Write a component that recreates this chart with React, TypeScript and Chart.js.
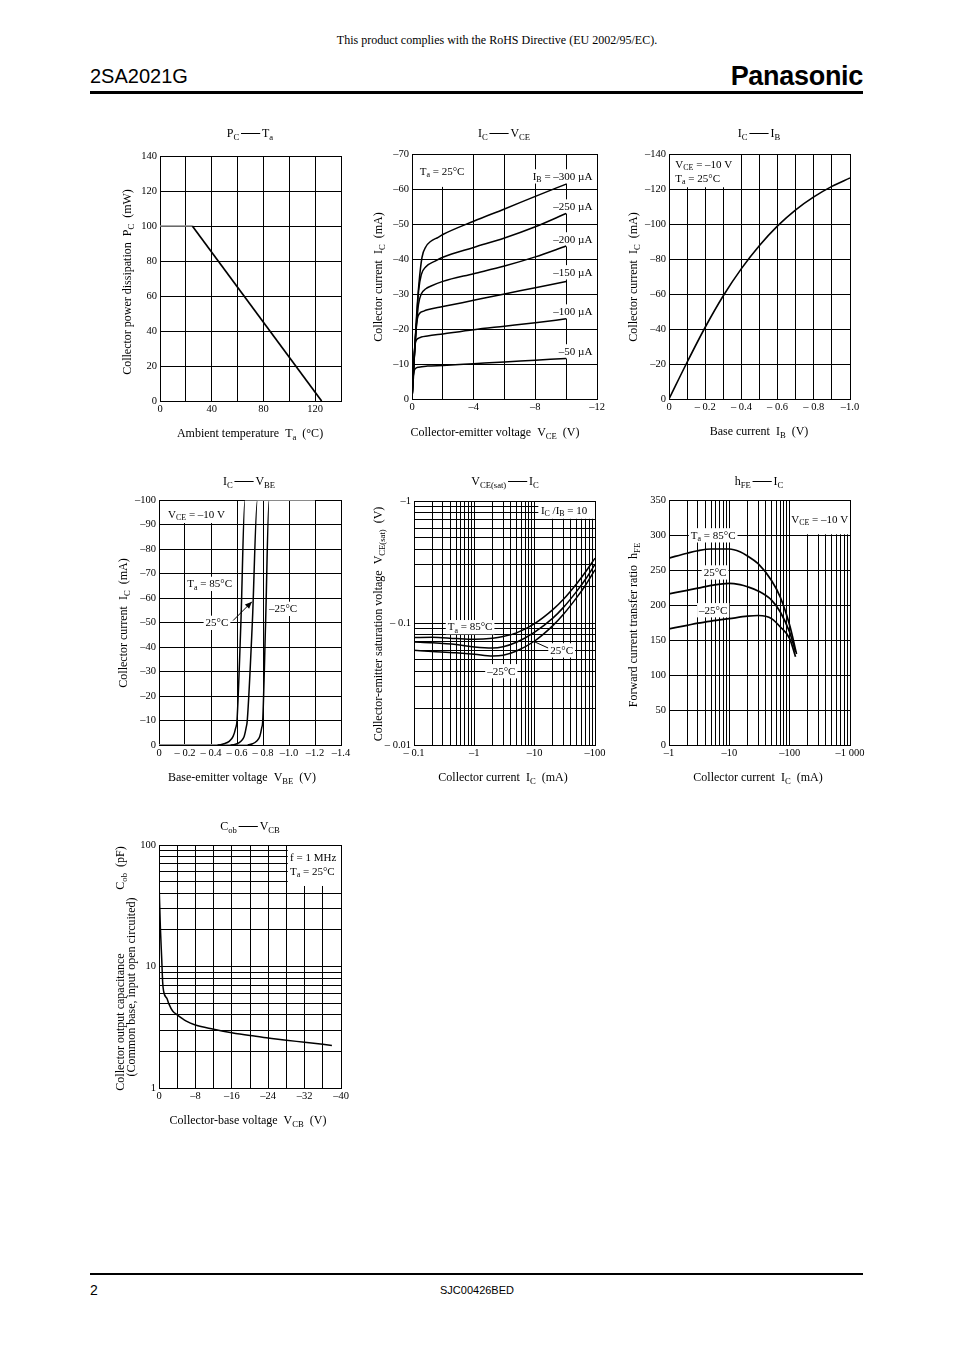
import React, { useEffect, useRef } from 'react';
import { Chart, registerables } from 'chart.js';

Chart.register(...registerables);

const SERIF = '"Liberation Serif", "Times New Roman", Times, serif';
const SANS = '"Liberation Sans", Arial, Helvetica, sans-serif';

/* ===================== DATA ===================== */
// PC – Ta
const TA = [0, 25, 125];
const PC = [100, 100, 0];

// IC – VCE (Ta = 25°C), one curve per IB
const VCE_300 = [0, -0.15, -0.3, -0.45, -0.65, -0.9, -1.2, -1.7, -2, -4, -6, -8, -10];
const IC_300 = [0, -12, -24, -33, -40.5, -43.5, -45, -46.2, -47, -50.8, -54.3, -57.9, -61.4];
const VCE_250 = [0, -0.15, -0.3, -0.43, -0.6, -0.9, -1.5, -2, -4, -6, -8, -10];
const IC_250 = [0, -12, -23, -31, -35.5, -37.8, -39.4, -40.5, -43.3, -46, -49.2, -53];
const VCE_200 = [0, -0.15, -0.3, -0.42, -0.6, -0.9, -1.2, -2, -4, -6, -8, -10];
const IC_200 = [0, -12, -21.5, -27, -30, -31.5, -32.2, -33.6, -35.8, -38, -40.6, -43.7];
const VCE_150 = [0, -0.12, -0.25, -0.35, -0.5, -0.76, -1, -2, -4, -6, -8, -10];
const IC_150 = [0, -10, -19.5, -23, -24.5, -25.1, -25.5, -26.4, -28.2, -30, -31.8, -33.6];
const VCE_100 = [0, -0.1, -0.17, -0.25, -0.4, -0.6, -1, -2, -4, -6, -8, -10];
const IC_100 = [0, -9, -14.5, -16.5, -17.3, -17.7, -18, -18.6, -19.8, -20.8, -21.8, -22.9];
const VCE_50 = [0, -0.06, -0.11, -0.2, -0.43, -1, -2, -4, -6, -8, -10];
const IC_50 = [0, -4, -7.2, -8.6, -9.1, -9.4, -9.6, -10.1, -10.6, -11.1, -11.6];
const IB_LABELS = ['I_{B} = –300 µA', '–250 µA', '–200 µA', '–150 µA', '–100 µA', '–50 µA'];
const IB_LABEL_Y = [-63.7, -55.1, -45.7, -36.3, -25.1, -13.7];

// IC – IB (VCE = –10 V, Ta = 25°C)
const IB = [0, -0.1, -0.2, -0.3, -0.4, -0.5, -0.6, -0.7, -0.8, -0.9, -1.0];
const IC_IB = [0, -21, -41, -59, -74.5, -87.7, -98.9, -108.1, -115.5, -121.5, -126.3];

// IC – VBE (VCE = –10 V)
const VBE_85 = [0, -0.45, -0.5, -0.54, -0.57, -0.59, -0.6, -0.63, -0.661, -1.2];
const VBE_25 = [0, -0.55, -0.6, -0.63, -0.655, -0.67, -0.679, -0.718, -0.757, -1.2];
const VBE_M25 = [0, -0.68, -0.72, -0.75, -0.775, -0.79, -0.798, -0.82, -0.847, -1.2];
const IC_VBE = [0, 0, -0.5, -1.5, -3.5, -7, -10, -50, -100, -100];

// VCE(sat) – IC (IC/IB = 10); magnitudes (both axes negative, log scales)
const IC_SAT = [0.1, 0.2, 0.5, 1, 2, 3, 5, 10, 20, 30, 50, 70, 100];
const VSAT_85 = [0.076, 0.0765, 0.0745, 0.0735, 0.075, 0.0775, 0.083, 0.099, 0.1287, 0.1565, 0.2109, 0.2632, 0.34];
const VSAT_25 = [0.07, 0.0688, 0.0665, 0.0637, 0.0625, 0.064, 0.0695, 0.0843, 0.1096, 0.1343, 0.1826, 0.2293, 0.3029];
const VSAT_M25 = [0.0597, 0.0585, 0.057, 0.0555, 0.0537, 0.0545, 0.059, 0.0712, 0.0951, 0.1178, 0.1621, 0.2049, 0.2728];

// hFE – IC (VCE = –10 V); IC magnitudes in mA
const IC_H85 = [1, 2, 3, 5, 10, 15, 20, 30, 50, 70, 100, 130];
const HFE_85 = [267, 274, 277.5, 280, 280, 276, 270, 259, 235, 211, 171, 130];
const IC_H25 = [1, 2, 3, 5, 10, 15, 20, 30, 50, 70, 100, 125];
const HFE_25 = [216, 221, 224, 228, 231, 229, 226, 220, 207, 190, 161, 133];
const IC_HM25 = [1, 2, 3, 5, 10, 20, 30, 40, 50, 70, 100, 125];
const HFE_M25 = [166, 171, 174, 177, 180.5, 184, 185, 184, 180.5, 168.6, 152, 126];

// Cob – VCB (f = 1 MHz, Ta = 25°C)
const VCB = [0, -0.3, -0.6, -0.8, -1, -1.8, -2.2, -3, -4, -6, -8, -12, -16, -20, -24, -28, -32, -38];
const COB = [50, 21, 11.5, 7.5, 6.3, 5.4, 4.9, 4.3, 4.0, 3.55, 3.3, 3.05, 2.85, 2.7, 2.58, 2.47, 2.38, 2.24];

// log gridline ticks
const decade = (from: number, to: number) => {
  const out: number[] = [];
  for (let d = from; d < to * 0.99; d *= 10) for (let m = 1; m < 10; m++) out.push(+(d * m).toPrecision(3));
  out.push(to);
  return out;
};
const SAT_X_TICKS = decade(0.1, 100);
const SAT_Y_TICKS = decade(0.01, 1);
const HFE_X_TICKS = decade(1, 1000);
const COB_Y_TICKS = decade(1, 100);

/* ===================== RICH TEXT ===================== */
type Seg = { t: string; sub?: boolean; line?: boolean };
function parseRich(s: string): Seg[] {
  const out: Seg[] = [];
  let buf = '';
  for (let i = 0; i < s.length; i++) {
    const c = s[i];
    if (c === '_' && s[i + 1] === '{') {
      if (buf) { out.push({ t: buf }); buf = ''; }
      const j = s.indexOf('}', i);
      out.push({ t: s.slice(i + 2, j), sub: true });
      i = j;
    } else if (c === '§') {
      if (buf) { out.push({ t: buf }); buf = ''; }
      out.push({ t: '', line: true });
    } else buf += c;
  }
  if (buf) out.push({ t: buf });
  return out;
}
function drawRich(ctx: CanvasRenderingContext2D, text: string, x: number, y: number, size: number, align: string = 'left', bg = false) {
  const segs = parseRich(text);
  let w = 0;
  for (const s of segs) {
    if (s.line) { w += size * 1.9; continue; }
    ctx.font = `${s.sub ? size * 0.72 : size}px ${SERIF}`;
    w += ctx.measureText(s.t).width;
  }
  let cx = align === 'left' ? x : align === 'center' ? x - w / 2 : x - w;
  const base = y + size * 0.33;
  if (bg) {
    ctx.fillStyle = '#fff';
    ctx.fillRect(cx - 2, y - size * 0.62, w + 4, size * 1.3);
  }
  ctx.fillStyle = '#000';
  ctx.textAlign = 'left';
  ctx.textBaseline = 'alphabetic';
  for (const s of segs) {
    if (s.line) {
      ctx.beginPath();
      ctx.lineWidth = 1;
      ctx.strokeStyle = '#000';
      const ly = Math.round(base - size * 0.32) + 0.5;
      ctx.moveTo(cx + size * 0.15, ly);
      ctx.lineTo(cx + size * 1.75, ly);
      ctx.stroke();
      cx += size * 1.9;
      continue;
    }
    const fs = s.sub ? size * 0.72 : size;
    ctx.font = `${fs}px ${SERIF}`;
    ctx.fillText(s.t, cx, s.sub ? base + size * 0.22 : base);
    cx += ctx.measureText(s.t).width;
  }
}

/* ===================== CHART HELPERS ===================== */
const PAD = { l: 60, t: 45, r: 30, b: 50 };
const Y_W = 44; // width kept for y tick labels
const X_H = 28; // height kept for x tick labels

const TICK = { color: '#000', font: { family: SERIF, size: 10.5 }, autoSkip: false, maxRotation: 0, minRotation: 0 };
const GRID = { color: '#000', lineWidth: 1, drawTicks: false };
const fitX = (s: any) => { s.height = X_H; };
const fitY = (s: any) => { s.width = Y_W; };

function linAxis(axis: 'x' | 'y', min: number, max: number, step: number, fmt: (v: number) => string, reverse = false) {
  return {
    type: 'linear', min, max, reverse,
    ticks: { ...TICK, stepSize: step, padding: axis === 'x' ? 2 : 3, callback: fmt },
    grid: GRID, border: { display: false },
    afterFit: axis === 'x' ? fitX : fitY,
  };
}
function logAxis(axis: 'x' | 'y', min: number, max: number, ticks: number[], fmt: (v: number) => string) {
  return {
    type: 'logarithmic', min, max,
    ticks: { ...TICK, padding: axis === 'x' ? 2 : 3, callback: fmt },
    grid: GRID, border: { display: false },
    afterBuildTicks: (s: any) => { s.ticks = ticks.map((v) => ({ value: v })); },
    afterFit: axis === 'x' ? fitX : fitY,
  };
}
const negLbl = (v: number) => (Math.abs(v) < 1e-9 ? '0' : '–' + Math.abs(v));
const dec1 = (v: number) => {
  const r = Math.round(Math.abs(v) * 10);
  if (r === 0) return '0';
  return r < 10 ? '– 0.' + r : '–' + (r / 10).toFixed(1);
};

const curve = (xs: number[], ys: number[], opts: any = {}) => ({
  data: xs.map((x, i) => ({ x, y: ys[i] })),
  borderColor: '#000',
  borderWidth: 1.5,
  pointRadius: 0,
  pointHoverRadius: 0,
  fill: false,
  tension: 0.4,
  cubicInterpolationMode: 'monotone',
  ...opts,
});
const greyFlat = { borderColor: (c: any) => (c.p0.parsed.y === c.p1.parsed.y ? '#8c8c8c' : undefined) };

type Ann = { x: number; y: number; text: string; align?: string; bg?: boolean; size?: number };
type Box = { x0: number; x1: number; y0: number; y1: number };
type Ln = { x0: number; y0: number; x1: number; y1: number; arrow?: boolean };
type TextPos = { text: string; x: number; y: number };
type Spec = {
  key: string;
  rect: [number, number, number, number];
  title: TextPos;
  xTitle: TextPos;
  yTitles: TextPos[];
  datasets: any[];
  x: any;
  y: any;
  anns?: Ann[];
  boxes?: Box[];
  lines?: Ln[];
};

const SPECS: Spec[] = [
  {
    key: 'pc',
    rect: [160, 156, 341, 401],
    title: { text: 'P_{C}§T_{a}', x: 250, y: 133 },
    xTitle: { text: 'Ambient temperature  T_{a}  (°C)', x: 250, y: 433 },
    yTitles: [{ text: 'Collector power dissipation  P_{C}  (mW)', x: 127, y: 282 }],
    datasets: [curve(TA, PC, { tension: 0, cubicInterpolationMode: 'default', borderWidth: 1.7, segment: greyFlat })],
    x: linAxis('x', 0, 140, 20, (v) => (v % 40 === 0 ? String(v) : '')),
    y: linAxis('y', 0, 140, 20, (v) => String(v)),
  },
  {
    key: 'icvce',
    rect: [412, 154, 597, 399],
    title: { text: 'I_{C}§V_{CE}', x: 504, y: 133 },
    xTitle: { text: 'Collector-emitter voltage  V_{CE}  (V)', x: 495, y: 432 },
    yTitles: [{ text: 'Collector current  I_{C}  (mA)', x: 378, y: 277 }],
    datasets: [
      curve(VCE_300, IC_300), curve(VCE_250, IC_250), curve(VCE_200, IC_200),
      curve(VCE_150, IC_150), curve(VCE_100, IC_100), curve(VCE_50, IC_50),
    ],
    x: linAxis('x', -12, 0, 2, (v) => (Math.round(Math.abs(v)) % 4 === 0 ? negLbl(v) : ''), true),
    y: linAxis('y', -70, 0, 10, negLbl, true),
    boxes: [{ x0: 0, x1: -3.6, y0: -70, y1: -60.6 }],
    anns: [
      { x: -0.5, y: -65.1, text: 'T_{a} = 25°C' },
      ...IB_LABELS.map((t, i) => ({ x: -11.7, y: IB_LABEL_Y[i], text: t, align: 'right', bg: true })),
    ],
  },
  {
    key: 'icib',
    rect: [669, 154, 850, 399],
    title: { text: 'I_{C}§I_{B}', x: 759, y: 133 },
    xTitle: { text: 'Base current  I_{B}  (V)', x: 759, y: 431 },
    yTitles: [{ text: 'Collector current  I_{C}  (mA)', x: 633, y: 277 }],
    datasets: [curve(IB, IC_IB, { borderWidth: 1.6 })],
    x: linAxis('x', -1, 0, 0.1, (v) => (Math.round(Math.abs(v) * 10) % 2 ? '' : dec1(v)), true),
    y: linAxis('y', -140, 0, 20, negLbl, true),
    boxes: [{ x0: 0, x1: -0.38, y0: -140, y1: -121 }],
    anns: [
      { x: -0.035, y: -134.3, text: 'V_{CE} = –10 V' },
      { x: -0.035, y: -126.3, text: 'T_{a} = 25°C' },
    ],
  },
  {
    key: 'icvbe',
    rect: [159, 500, 341, 745],
    title: { text: 'I_{C}§V_{BE}', x: 249, y: 481 },
    xTitle: { text: 'Base-emitter voltage  V_{BE}  (V)', x: 242, y: 777 },
    yTitles: [{ text: 'Collector current  I_{C}  (mA)', x: 123, y: 623 }],
    datasets: [
      curve(VBE_85, IC_VBE, { segment: greyFlat }),
      curve(VBE_25, IC_VBE, { segment: greyFlat }),
      curve(VBE_M25, IC_VBE, { segment: greyFlat }),
    ],
    x: linAxis('x', -1.4, 0, 0.2, dec1, true),
    y: linAxis('y', -100, 0, 10, negLbl, true),
    boxes: [{ x0: 0, x1: -0.56, y0: -100, y1: -90.6 }],
    anns: [
      { x: -0.07, y: -94.3, text: 'V_{CE} = –10 V' },
      { x: -0.39, y: -65.9, text: 'T_{a} = 85°C', align: 'center', bg: true },
      { x: -0.446, y: -50, text: '25°C', align: 'center', bg: true },
      { x: -0.954, y: -55.7, text: '–25°C', align: 'center', bg: true },
    ],
    lines: [{ x0: -0.57, y0: -50.8, x1: -0.715, y1: -58.5, arrow: true }],
  },
  {
    key: 'vsat',
    rect: [414, 501, 595, 745],
    title: { text: 'V_{CE(sat)}§I_{C}', x: 505, y: 481 },
    xTitle: { text: 'Collector current  I_{C}  (mA)', x: 503, y: 777 },
    yTitles: [{ text: 'Collector-emitter saturation voltage  V_{CE(sat)}  (V)', x: 378, y: 624 }],
    datasets: [curve(IC_SAT, VSAT_85), curve(IC_SAT, VSAT_25), curve(IC_SAT, VSAT_M25)],
    x: logAxis('x', 0.1, 100, SAT_X_TICKS, (v) => ({ 0.1: '– 0.1', 1: '–1', 10: '–10', 100: '–100' } as any)[v] ?? ''),
    y: logAxis('y', 0.01, 1, SAT_Y_TICKS, (v) => ({ 0.01: '– 0.01', 0.1: '– 0.1', 1: '–1' } as any)[v] ?? ''),
    boxes: [{ x0: 11.5, x1: 100, y0: 0.715, y1: 1 }],
    anns: [
      { x: 12.7, y: 0.844, text: 'I_{C} /I_{B} = 10' },
      { x: 0.85, y: 0.093, text: 'T_{a} = 85°C', align: 'center', bg: true },
      { x: 28, y: 0.06, text: '25°C', align: 'center', bg: true },
      { x: 2.8, y: 0.0405, text: '–25°C', align: 'center', bg: true },
    ],
    lines: [{ x0: 10.1, y0: 0.0699, x1: 16.7, y1: 0.0624 }],
  },
  {
    key: 'hfe',
    rect: [669, 500, 850, 745],
    title: { text: 'h_{FE}§I_{C}', x: 759, y: 481 },
    xTitle: { text: 'Collector current  I_{C}  (mA)', x: 758, y: 777 },
    yTitles: [{ text: 'Forward current transfer ratio  h_{FE}', x: 633, y: 625 }],
    datasets: [
      curve(IC_H85, HFE_85, { borderWidth: 1.7 }),
      curve(IC_H25, HFE_25, { borderWidth: 1.7 }),
      curve(IC_HM25, HFE_M25, { borderWidth: 1.7 }),
    ],
    x: logAxis('x', 1, 1000, HFE_X_TICKS, (v) => ({ 1: '–1', 10: '–10', 100: '–100', 1000: '–1 000' } as any)[v] ?? ''),
    y: linAxis('y', 0, 350, 50, (v) => String(v)),
    boxes: [{ x0: 102, x1: 1000, y0: 301, y1: 350 }],
    anns: [
      { x: 106, y: 323, text: 'V_{CE} = –10 V' },
      { x: 5.4, y: 300, text: 'T_{a} = 85°C', align: 'center', bg: true },
      { x: 5.8, y: 247, text: '25°C', align: 'center', bg: true },
      { x: 5.4, y: 193, text: '–25°C', align: 'center', bg: true },
    ],
  },
  {
    key: 'cob',
    rect: [159, 845, 341, 1088],
    title: { text: 'C_{ob}§V_{CB}', x: 250, y: 826 },
    xTitle: { text: 'Collector-base voltage  V_{CB}  (V)', x: 248, y: 1120 },
    yTitles: [
      { text: 'Collector output capacitance', x: 120, y: 1022 },
      { text: '(Common base, input open circuited)', x: 131, y: 987 },
      { text: 'C_{ob}  (pF)', x: 120, y: 868 },
    ],
    datasets: [curve(VCB, COB)],
    x: linAxis('x', -40, 0, 4, (v) => (Math.round(Math.abs(v)) % 8 === 0 ? negLbl(v) : ''), true),
    y: logAxis('y', 1, 100, COB_Y_TICKS, (v) => ({ 1: '1', 10: '10', 100: '100' } as any)[v] ?? ''),
    boxes: [{ x0: -28.3, x1: -40, y0: 46, y1: 100 }],
    anns: [
      { x: -28.8, y: 79.6, text: 'f = 1 MHz' },
      { x: -28.8, y: 61.1, text: 'T_{a} = 25°C' },
    ],
  },
];

function makeDecor(spec: Spec, ox: number, oy: number) {
  return {
    id: 'decor_' + spec.key,
    beforeDatasetsDraw(chart: any) {
      const ctx: CanvasRenderingContext2D = chart.ctx;
      const xs = chart.scales.x;
      const ys = chart.scales.y;
      const a = chart.chartArea;
      ctx.save();
      for (const b of spec.boxes || []) {
        const x0 = xs.getPixelForValue(b.x0), x1 = xs.getPixelForValue(b.x1);
        const y0 = ys.getPixelForValue(b.y0), y1 = ys.getPixelForValue(b.y1);
        ctx.fillStyle = '#fff';
        ctx.fillRect(Math.min(x0, x1), Math.min(y0, y1), Math.abs(x1 - x0), Math.abs(y1 - y0));
      }
      for (const n of spec.anns || []) {
        drawRich(ctx, n.text, xs.getPixelForValue(n.x), ys.getPixelForValue(n.y), n.size || 11, n.align || 'left', !!n.bg);
      }
      ctx.strokeStyle = '#000';
      ctx.lineWidth = 1;
      const l = Math.round(a.left), t = Math.round(a.top);
      ctx.strokeRect(l + 0.5, t + 0.5, Math.round(a.right) - l, Math.round(a.bottom) - t);
      ctx.restore();
    },
    afterDatasetsDraw(chart: any) {
      const ctx: CanvasRenderingContext2D = chart.ctx;
      const xs = chart.scales.x;
      const ys = chart.scales.y;
      ctx.save();
      ctx.strokeStyle = '#000';
      ctx.fillStyle = '#000';
      ctx.lineWidth = 1;
      for (const ln of spec.lines || []) {
        const x0 = xs.getPixelForValue(ln.x0), y0 = ys.getPixelForValue(ln.y0);
        const x1 = xs.getPixelForValue(ln.x1), y1 = ys.getPixelForValue(ln.y1);
        ctx.beginPath();
        ctx.moveTo(x0, y0);
        ctx.lineTo(x1, y1);
        ctx.stroke();
        if (ln.arrow) {
          const ang = Math.atan2(y1 - y0, x1 - x0);
          const L = 7, W = 3;
          ctx.beginPath();
          ctx.moveTo(x1, y1);
          ctx.lineTo(x1 - L * Math.cos(ang) + W * Math.sin(ang), y1 - L * Math.sin(ang) - W * Math.cos(ang));
          ctx.lineTo(x1 - L * Math.cos(ang) - W * Math.sin(ang), y1 - L * Math.sin(ang) + W * Math.cos(ang));
          ctx.closePath();
          ctx.fill();
        }
      }
      ctx.restore();
    },
    afterDraw(chart: any) {
      const ctx: CanvasRenderingContext2D = chart.ctx;
      ctx.save();
      drawRich(ctx, spec.title.text, spec.title.x - ox, spec.title.y - oy, 12, 'center');
      drawRich(ctx, spec.xTitle.text, spec.xTitle.x - ox, spec.xTitle.y - oy, 12, 'center');
      for (const yt of spec.yTitles) {
        ctx.save();
        ctx.translate(yt.x - ox, yt.y - oy);
        ctx.rotate(-Math.PI / 2);
        drawRich(ctx, yt.text, 0, 0, 12, 'center');
        ctx.restore();
      }
      ctx.restore();
    },
  };
}

function ChartBox({ spec }: { spec: Spec }) {
  const ref = useRef<HTMLCanvasElement>(null);
  const [L, T, R, B] = spec.rect;
  const left = L - PAD.l;
  const top = T - PAD.t;
  const w = R - L + PAD.l + PAD.r;
  const h = B - T + PAD.t + PAD.b;
  useEffect(() => {
    if (!ref.current) return;
    const chart = new Chart(ref.current, {
      type: 'line',
      data: { datasets: spec.datasets },
      options: {
        animation: false,
        responsive: false,
        maintainAspectRatio: false,
        events: [],
        layout: { padding: { left: PAD.l - Y_W, top: PAD.t, right: PAD.r, bottom: PAD.b - X_H } },
        plugins: { legend: { display: false }, tooltip: { enabled: false }, title: { display: false } },
        scales: { x: spec.x, y: spec.y },
      },
      plugins: [makeDecor(spec, left, top)],
    } as any);
    return () => chart.destroy();
  }, []);
  return (
    <canvas
      ref={ref}
      width={w}
      height={h}
      style={{ position: 'absolute', left, top, width: w, height: h }}
    />
  );
}

export default function App() {
  return (
    <div style={{ position: 'absolute', left: 0, top: 0, width: 954, height: 1350, background: '#fff', overflow: 'hidden' }}>
      <div style={{ position: 'absolute', left: 40, width: 914, top: 33, textAlign: 'center', fontFamily: SERIF, fontSize: 12, lineHeight: '14px' }}>
        This product complies with the RoHS Directive (EU 2002/95/EC).
      </div>
      <div style={{ position: 'absolute', left: 90, top: 66, fontFamily: SANS, fontSize: 20, lineHeight: '20px' }}>2SA2021G</div>
      <div style={{ position: 'absolute', right: 91, top: 63, fontFamily: SANS, fontSize: 27, fontWeight: 'bold', lineHeight: '27px', letterSpacing: -0.3 }}>Panasonic</div>
      <div style={{ position: 'absolute', left: 90, top: 91, width: 773, height: 3, background: '#000' }} />
      {SPECS.map((s) => (
        <ChartBox key={s.key} spec={s} />
      ))}
      <div style={{ position: 'absolute', left: 90, top: 1273, width: 773, height: 2, background: '#000' }} />
      <div style={{ position: 'absolute', left: 90, top: 1283, fontFamily: SANS, fontSize: 14, lineHeight: '14px' }}>2</div>
      <div style={{ position: 'absolute', left: 0, width: 954, top: 1285, textAlign: 'center', fontFamily: SANS, fontSize: 11, lineHeight: '11px' }}>SJC00426BED</div>
    </div>
  );
}
